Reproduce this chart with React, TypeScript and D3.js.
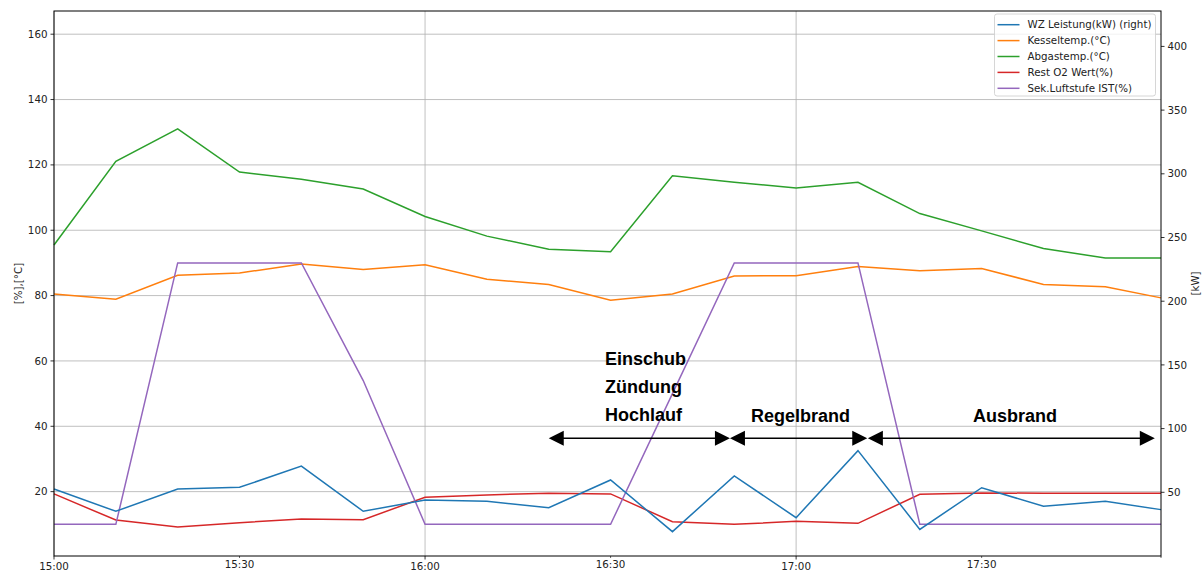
import React from "react";
import * as d3 from "d3";

// ---- data (minutes after 15:00) ----
const minutes = [0, 10, 20, 30, 40, 50, 60, 70, 80, 90, 100, 110, 120, 130, 140, 150, 160, 170, 179];
const wzLeistung = [52.6, 35.1, 52.6, 53.9, 70.6, 35.1, 44, 42.9, 37.9, 59.7, 19.1, 62.8, 30.1, 82.7, 20.9, 53.6, 39, 42.9, 36.4];
const kesseltemp = [80.5, 78.9, 86.2, 86.9, 89.7, 88, 89.4, 85, 83.4, 78.6, 80.5, 86, 86.1, 88.9, 87.6, 88.3, 83.4, 82.7, 79.3];
const abgastemp = [95.5, 121.1, 131, 117.8, 115.6, 112.6, 104.2, 98.2, 94.2, 93.4, 116.7, 114.7, 112.9, 114.7, 105.1, 99.8, 94.4, 91.5, 91.5];
const restO2 = [19.3, 11.3, 9.2, 10.5, 11.6, 11.4, 18.3, 19, 19.5, 19.3, 10.8, 10, 10.9, 10.3, 19.2, 19.6, 19.5, 19.5, 19.5];
const sekLuft = [10, 10, 90, 90, 90, 54, 10, 10, 10, 10, 50, 90, 90, 90, 10, 10, 10, 10, 10];

const seriesNames = ["WZ Leistung(kW) (right)", "Kesseltemp.(°C)", "Abgastemp.(°C)", "Rest O2 Wert(%)", "Sek.Luftstufe IST(%)"];
const seriesColors = ["#1f77b4", "#ff7f0e", "#2ca02c", "#d62728", "#9467bd"];

const xMajorTicks = [0, 60, 120];
const xMajorLabels = ["15:00", "16:00", "17:00"];
const xMinorTicks = [30, 90, 150, 179];
const xMinorLabels = ["15:30", "16:30", "17:30", ""];
const leftTicks = [20, 40, 60, 80, 100, 120, 140, 160];
const rightTicks = [50, 100, 150, 200, 250, 300, 350, 400];

// phase annotations (x in minutes, y in left-axis units)
const phaseStart = [80, 109.3, 131.6];
const phaseEnd = [109.3, 131.5, 178];
const phaseArrowY = 36.3;
const phaseTextLines = [["Einschub", "Zündung", "Hochlauf"], ["Regelbrand"], ["Ausbrand"]];
const phaseTextX = [89.1, 112.7, 148.6];
const phaseTextY = [[58.8, 50.2, 41.7], [41.4], [41.4]];

const W = 1203;
const H = 571;
const M = { left: 54, right: 1161, top: 11, bottom: 556 };

export default function App() {
  const x = d3.scaleLinear().domain([0, 179]).range([M.left, M.right]);
  const yL = d3.scaleLinear().domain([0.3, 167.1]).range([M.bottom, M.top]);
  const yR = d3.scaleLinear().domain([0.0, 427.8]).range([M.bottom, M.top]);

  const lineL = (vals: number[]) =>
    d3.line<number>().x((_, i) => x(minutes[i])).y((v) => yL(v))(vals) || "";
  const lineR = (vals: number[]) =>
    d3.line<number>().x((_, i) => x(minutes[i])).y((v) => yR(v))(vals) || "";

  const font = "DejaVu Sans, sans-serif";
  const fs = 10.3;

  const legendX = 994.5;
  const legendY = 14;

  return (
    <svg width={W} height={H} style={{ position: "absolute", left: 0, top: 0, background: "#fff" }} fontFamily={font}>
      <rect x={0} y={0} width={W} height={H} fill="#fff" />
      {/* grid */}
      {leftTicks.map((t) => (
        <line key={"gh" + t} x1={M.left} x2={M.right} y1={yL(t)} y2={yL(t)} stroke="#b0b0b0" strokeWidth={0.8} />
      ))}
      {xMajorTicks.map((t) => (
        <line key={"gv" + t} x1={x(t)} x2={x(t)} y1={M.top} y2={M.bottom} stroke="#b0b0b0" strokeWidth={0.8} />
      ))}

      {/* left series */}
      <path d={lineL(kesseltemp)} fill="none" stroke={seriesColors[1]} strokeWidth={1.5} />
      <path d={lineL(abgastemp)} fill="none" stroke={seriesColors[2]} strokeWidth={1.5} />
      <path d={lineL(restO2)} fill="none" stroke={seriesColors[3]} strokeWidth={1.5} />
      <path d={lineL(sekLuft)} fill="none" stroke={seriesColors[4]} strokeWidth={1.5} />
      {/* right series */}
      <path d={lineR(wzLeistung)} fill="none" stroke={seriesColors[0]} strokeWidth={1.5} />

      {/* spines */}
      <rect x={M.left} y={M.top} width={M.right - M.left} height={M.bottom - M.top} fill="none" stroke="#000" strokeWidth={1} />

      {/* left ticks */}
      {leftTicks.map((t) => (
        <g key={"lt" + t}>
          <line x1={M.left - 3.5} x2={M.left} y1={yL(t)} y2={yL(t)} stroke="#000" strokeWidth={0.8} />
          <text x={M.left - 6.5} y={yL(t)} dy="0.35em" textAnchor="end" fontSize={fs} fill="#222">{t}</text>
        </g>
      ))}
      {/* right ticks */}
      {rightTicks.map((t) => (
        <g key={"rt" + t}>
          <line x1={M.right} x2={M.right + 3.5} y1={yR(t)} y2={yR(t)} stroke="#000" strokeWidth={0.8} />
          <text x={M.right + 6.5} y={yR(t)} dy="0.35em" textAnchor="start" fontSize={fs} fill="#222">{t}</text>
        </g>
      ))}
      {/* x ticks */}
      {xMajorTicks.map((t, i) => (
        <g key={"xM" + t}>
          <line x1={x(t)} x2={x(t)} y1={M.bottom} y2={M.bottom + 3.5} stroke="#000" strokeWidth={0.8} />
          <text x={x(t)} y={M.bottom + 13.8} textAnchor="middle" fontSize={fs} fill="#222">{xMajorLabels[i]}</text>
        </g>
      ))}
      {xMinorTicks.map((t, i) => (
        <g key={"xm" + t}>
          <line x1={x(t)} x2={x(t)} y1={M.bottom} y2={M.bottom + 2} stroke="#000" strokeWidth={0.6} />
          <text x={x(t)} y={M.bottom + 12.3} textAnchor="middle" fontSize={fs} fill="#222">{xMinorLabels[i]}</text>
        </g>
      ))}

      {/* axis labels */}
      <text transform={`translate(18,${(M.top + M.bottom) / 2}) rotate(-90)`} textAnchor="middle" dy="0.35em" fontSize={fs} fill="#222">[%],[°C]</text>
      <text transform={`translate(1195,${(M.top + M.bottom) / 2}) rotate(-90)`} textAnchor="middle" dy="0.35em" fontSize={fs} fill="#222">[kW]</text>

      {/* annotations */}
      {phaseStart.map((s, i) => {
        const x1 = x(s);
        const x2 = x(phaseEnd[i]);
        const y = yL(phaseArrowY);
        const hl = 15;
        const hh = 7.5;
        return (
          <g key={"ph" + i}>
            <line x1={x1 + 5} x2={x2 - 5} y1={y} y2={y} stroke="#000" strokeWidth={1.5} />
            <path d={`M${x1},${y} L${x1 + hl},${y - hh} L${x1 + hl},${y + hh} Z`} fill="#000" />
            <path d={`M${x2},${y} L${x2 - hl},${y - hh} L${x2 - hl},${y + hh} Z`} fill="#000" />
          </g>
        );
      })}
      {phaseTextLines.map((lines, i) =>
        lines.map((ln, j) => (
          <text key={"pt" + i + "-" + j} x={x(phaseTextX[i])} y={yL(phaseTextY[i][j])} fontFamily="Liberation Sans, Arial, sans-serif" fontWeight="bold" fontSize={18} fill="#000">{ln}</text>
        ))
      )}

      {/* legend */}
      <rect x={legendX} y={legendY} width={161} height={82} rx={2.5} fill="#fff" fillOpacity={0.8} stroke="#cccccc" strokeWidth={0.8} />
      {seriesNames.map((n, i) => {
        const ly = 24.7 + i * 15.9;
        return (
          <g key={"lg" + i}>
            <line x1={997.5} x2={1019.5} y1={ly} y2={ly} stroke={seriesColors[i]} strokeWidth={1.5} />
            <text x={1027.5} y={ly} dy="0.35em" fontSize={fs} fill="#222">{n}</text>
          </g>
        );
      })}
    </svg>
  );
}
